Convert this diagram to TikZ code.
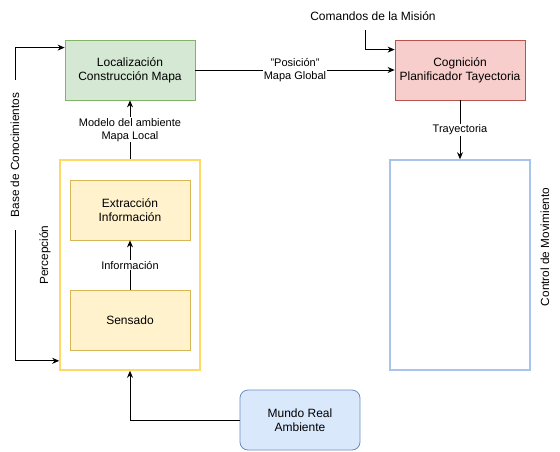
\documentclass[tikz,border=0pt]{standalone}
\usepackage{fontspec}
\setmainfont{Liberation Sans}
\usetikzlibrary{arrows.meta}

\definecolor{locfill}{HTML}{D5E8D4}
\definecolor{locline}{HTML}{82B366}
\definecolor{cogfill}{HTML}{F8CECC}
\definecolor{cogline}{HTML}{B85450}
\definecolor{percline}{HTML}{FFD966}
\definecolor{stepfill}{HTML}{FFF2CC}
\definecolor{stepline}{HTML}{D6B656}
\definecolor{ctrlline}{HTML}{A9C4EB}
\definecolor{worldfill}{HTML}{DAE8FC}
\definecolor{worldline}{HTML}{6C8EBF}

\begin{document}
\begin{tikzpicture}[x=1pt, y=-1pt,
  box/.style={draw, line width=0.8pt, align=center, inner sep=0pt,
    minimum width=130pt, minimum height=60pt, font=\fontsize{12}{14}\selectfont},
  frame/.style={draw, fill=white, line width=1.6pt, inner sep=0pt,
    minimum width=140pt, minimum height=210pt},
  lbl/.style={fill=white, align=center, inner sep=1pt, font=\fontsize{11}{13}\selectfont},
  side/.style={rotate=90, font=\fontsize{11.8}{14}\selectfont},
  link/.style={line width=0.8pt, -{Stealth[length=7pt, width=6pt]}}]

\path [use as bounding box] (0,0) rectangle (560,451);

% SHAPES
\node [box, fill=locfill, draw=locline] (loc) at (130,70) {Localización\\Construcción Mapa};
\node [box, fill=cogfill, draw=cogline] (cog) at (460,70) {Cognición\\Planificador Tayectoria};
\node [frame, draw=percline] (perc) at (130,265) {};
\node [frame, draw=ctrlline] (ctrl) at (460,265) {};
\node [box, fill=stepfill, draw=stepline, minimum width=120pt] (extr) at (130,210) {Extracción\\Información};
\node [box, fill=stepfill, draw=stepline, minimum width=120pt] (sens) at (130,320) {Sensado};
\node [box, fill=worldfill, draw=worldline, minimum width=120pt, rounded corners=8pt] (world) at (300,420) {Mundo Real\\Ambiente};

% TEXTS
\node [font=\fontsize{12}{14}\selectfont] (cmd) at (373,16) {Comandos de la Misión};
\node [side] (kb) at (15,155) {Base de Conocimientos};
\node [side] (perclbl) at (45,255) {Percepción};
\node [side] (ctrllbl) at (545,247) {Control de Movimiento};
\coordinate (cmdfoot) at (365,30);
\coordinate (kbtop) at (15,80);
\coordinate (kbbot) at (15,230);

% LINKS
\draw [link] (loc) -- node[lbl] {"Posición"\\Mapa Global} (cog);
\draw [link] (cog) -- node[lbl] {Trayectoria} (ctrl);
\draw [link] (perc) -- node[lbl] {Modelo del ambiente\\Mapa Local} (loc);
\draw [link] (sens) -- node[lbl] {Información} (extr);
\draw [link] (world.west) -| (perc.south);
\draw [link] (cmdfoot) |- ([yshift=-10pt]cog.north west);
\draw [link] (kbtop) |- ([yshift=-8pt]loc.north west);
\draw [link] (kbbot) |- ([yshift=10pt]perc.south west);

\end{tikzpicture}
\end{document}
